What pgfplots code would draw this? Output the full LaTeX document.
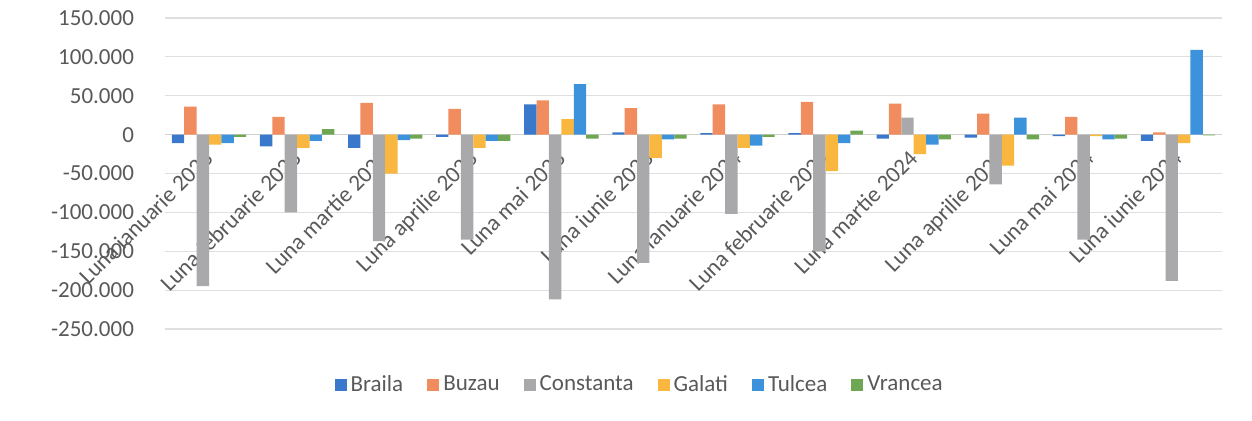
\documentclass[border=0pt]{standalone}
\usepackage{fontspec}
\setmainfont{Carlito}
\usepackage{pgfplots}
\usepackage{pgfplotstable}
\pgfplotsset{compat=1.18}

\definecolor{cBraila}{HTML}{3A78CC}
\definecolor{cBuzau}{HTML}{F08C5E}
\definecolor{cConstanta}{HTML}{A9A9AB}
\definecolor{cGalati}{HTML}{F9B740}
\definecolor{cTulcea}{HTML}{3D93DB}
\definecolor{cVrancea}{HTML}{6FA653}
\definecolor{txt}{HTML}{595959}

% values in persons, x = month index
\pgfplotstableread{
x braila buzau constanta galati tulcea vrancea
0  -11000 36000 -195000 -13000 -11000 -3000
1  -15000 23000 -100000 -17000  -8000  7000
2  -17000 41000 -137000 -50000  -7000 -5000
3   -3000 33000 -135000 -17000  -8000 -8000
4   39000 44000 -212000  20000  65000 -5000
5    3000 34000 -165000 -30000  -6000 -5000
6    2000 39000 -102000 -17000 -14000 -3000
7    2000 42000 -150000 -47000 -11000  5000
8   -5000 40000  22000 -25000 -13000 -6000
9   -4000 27000  -64000 -40000  22000 -6000
10  -2000 23000 -135000  -2000  -6000 -5000
11  -8000  3000 -188000 -11000 109000 -1000
}\data

\begin{document}
\begin{tikzpicture}
\useasboundingbox (-82.5pt,-45.5pt) rectangle (543.5pt,164.5pt);
\begin{axis}[
  scale only axis,
  width=528.5pt, height=155.5pt,
  ybar=0pt, bar width=6.2pt,
  xmin=-0.5, xmax=11.5,
  ymin=-250000, ymax=150000,
  scaled y ticks=false,
  axis x line*=middle,
  axis y line*=left,
  axis line style={draw=none},
  x axis line style={draw=gray!35, -},
  ytick={-250000,-200000,-150000,-100000,-50000,0,50000,100000,150000},
  yticklabels={-250.000,-200.000,-150.000,-100.000,-50.000,0,50.000,100.000,150.000},
  ymajorgrids, grid style={draw=gray!25, line width=0.6pt},
  major tick length=0pt,
  xtick={0,...,11},
  xticklabels={Luna ianuarie 2023,Luna februarie 2023,Luna martie 2023,Luna aprilie 2023,Luna mai 2023,Luna iunie 2023,Luna ianuarie 2024,Luna februarie 2024,Luna martie 2024,Luna aprilie 2024,Luna mai 2024,Luna iunie 2024},
  xticklabel style={xshift=-3pt, yshift=-2pt, rotate=45, anchor=north east, font=\fontsize{11.5}{12}\selectfont, text=txt},
  yticklabel style={font=\fontsize{11.5}{12}\selectfont, text=txt, xshift=-12pt},
  legend columns=6,
  legend style={draw=none, at={(0.45,-0.18)}, anchor=center, font=\fontsize{11.5}{12}\selectfont, text=txt,
    /tikz/every even column/.append style={column sep=10pt}},
  legend image code/.code={\fill[#1] (0pt,-3pt) rectangle (6pt,3pt);},
  every axis plot/.append style={draw=none},
]
\addplot[fill=cBraila] table[x=x,y=braila]{\data};
\addplot[fill=cBuzau] table[x=x,y=buzau]{\data};
\addplot[fill=cConstanta] table[x=x,y=constanta]{\data};
\addplot[fill=cGalati] table[x=x,y=galati]{\data};
\addplot[fill=cTulcea] table[x=x,y=tulcea]{\data};
\addplot[fill=cVrancea] table[x=x,y=vrancea]{\data};
\legend{Braila,Buzau,Constanta,Galati,Tulcea,Vrancea}
\end{axis}
\end{tikzpicture}
\end{document}
